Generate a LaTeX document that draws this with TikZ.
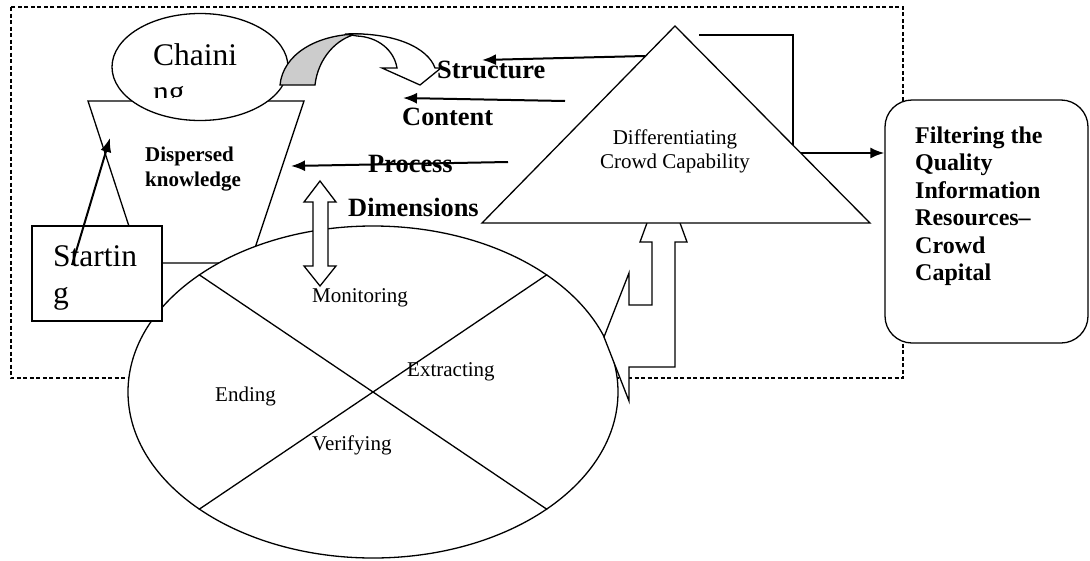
\documentclass[tikz,border=0pt]{standalone}
\usepackage{fontspec}
\setmainfont{Liberation Serif}
\usetikzlibrary{shapes,arrows,arrows.meta,positioning}

\begin{document}
\begin{tikzpicture}[x=1pt, y=-1pt,
    outline/.style={draw, line width=1.3pt},
    flow/.style={->, >={Latex[length=14pt,width=11pt]}, line width=2pt},
    dim/.style={font=\fontsize{26.4}{30}\selectfont\bfseries, inner sep=0, anchor=base west},
    phase/.style={font=\fontsize{21}{24}\selectfont, inner sep=0, anchor=base west},
    big/.style={font=\fontsize{31.5}{37}\selectfont, align=left, inner sep=0, anchor=base west}]
    \useasboundingbox (0,0) rectangle (1090,560);

    % dashed frame
    \draw[line width=1.3pt, dash pattern=on 4pt off 2.5pt] (11,7) rectangle (903,378);

    % dispersed knowledge and chaining
    \draw[outline] (88,101) -- (304,101) -- (250,263) -- (141,263) -- cycle;
    \node[outline, fill=white, ellipse, minimum width=176, minimum height=107, inner sep=0] (chain) at (200,67) {};
    \begin{scope}
        \clip (110,10) rectangle (290,97);
        \node[big] (chaintxt) at (153,102) {Chaini\\ng};
    \end{scope}
    \node[font=\fontsize{21}{25}\selectfont\bfseries, align=left, inner sep=0, anchor=base west] (disp) at (145,186) {Dispersed\\knowledge};

    % curved arrow
    \draw[outline, fill=gray!40] (280,85) .. controls (283,55) and (315,35) .. (357,34) .. controls (337,38) and (318,58) .. (315,85) -- cycle;
    \draw[outline, fill=white] (345,34) .. controls (395,32) and (428,48) .. (435,68) -- (441,68) -- (420,85) -- (382,68) -- (397,68) .. controls (394,50) and (378,37) .. (357,36) -- cycle;

    % phases
    \node[outline, fill=white, ellipse, minimum width=490, minimum height=332, inner sep=0] (phases) at (373,392) {};
    \draw[outline] (phases.146) -- (phases.-34);
    \draw[outline] (phases.-146) -- (phases.34);
    \node[phase] (mon) at (312,302) {Monitoring};
    \node[phase] (ext) at (407,376) {Extracting};
    \node[phase] (end) at (215,401) {Ending};
    \node[phase] (ver) at (312,450) {Verifying};

    % starting
    \node[outline, fill=white, minimum width=130, minimum height=95, inner sep=0] (start) at (97,273.5) {};
    \node[big] (starttxt) at (53,303) {Startin\\g};
    \coordinate (src) at (72,265);
    \coordinate (feed) at (110,138);
    \draw[flow] (src) -- (feed);

    % bent arrow up to the triangle
    \draw[outline, fill=white] (604,337) -- (629,273) -- (629,305) -- (652,305) -- (652,242) -- (640,242)
        -- (663.5,178) -- (687,242) -- (675,242) -- (675,367) -- (629,367) -- (629,401) -- cycle;

    % connector to filtering
    \node[outline, fill=white, rounded corners=27, minimum width=203, minimum height=243, inner sep=0] (filter) at (986.5,221.5) {};
    \coordinate (out) at (699,35);
    \coordinate (fork) at (793,153);
    \draw[flow] (out) -| (fork) -- (fork -| filter.west);
    \node[font=\fontsize{24}{27.5}\selectfont\bfseries, align=left, inner sep=0, anchor=base west] (filtertxt) at (915,280.5)
        {Filtering the\\Quality\\Information\\Resources–\\Crowd\\Capital};

    % crowd capability
    \coordinate (apex) at (675,26);
    \draw[outline, fill=white] (apex) -- (870,223) -- (482,223) -- cycle;
    \node[font=\fontsize{21}{24}\selectfont, align=center, inner sep=0, anchor=base] (capa) at (675,168) {Differentiating\\Crowd Capability};

    % dimensions
    \draw[outline, fill=white] (320,181) -- (336,202) -- (328,202) -- (328,266) -- (336,266) -- (320,286)
        -- (304,266) -- (313,266) -- (313,202) -- (304,202) -- cycle;
    \node[dim] (struct) at (437,78) {Structure};
    \node[dim] (content) at (402,125) {Content};
    \node[dim] (process) at (368,172) {Process};
    \node[dim] (dims) at (348,216) {Dimensions};
    \coordinate (s1) at (645,56);  \coordinate (s2) at (482,60);
    \coordinate (c1) at (565,101); \coordinate (c2) at (403,98);
    \coordinate (p1) at (508,162); \coordinate (p2) at (291,166);
    \draw[flow] (s1) -- (s2);
    \draw[flow] (c1) -- (c2);
    \draw[flow] (p1) -- (p2);
\end{tikzpicture}
\end{document}
